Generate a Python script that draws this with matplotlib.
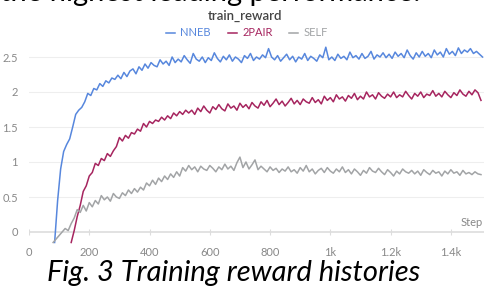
import numpy as np
import matplotlib.pyplot as plt

# --- data ---
nneb_start, pair_start, self_start = 85, 140, 80
step_size = 10

nneb = [-0.15, 0.45, 0.9, 1.15, 1.25, 1.33, 1.5, 1.68, 1.74, 1.78,
        1.86, 1.98, 1.95, 2.05, 2.03, 2.12, 2.08, 2.16, 2.13, 2.2,
        2.18, 2.24, 2.19, 2.28, 2.22, 2.3, 2.33, 2.26, 2.36, 2.31,
        2.4, 2.34, 2.42, 2.38, 2.36, 2.46, 2.4, 2.44, 2.38, 2.5,
        2.42, 2.47,
        2.43, 2.52, 2.46, 2.41, 2.55, 2.47, 2.44, 2.5, 2.42, 2.49,
        2.45, 2.56, 2.48, 2.43, 2.51, 2.46, 2.53, 2.44, 2.5, 2.47,
        2.42, 2.52, 2.48, 2.55, 2.45, 2.5, 2.47, 2.53, 2.49, 2.62,
        2.5, 2.46, 2.52, 2.44, 2.49, 2.54, 2.46, 2.51, 2.43, 2.5,
        2.47, 2.55, 2.45, 2.51, 2.48, 2.44, 2.53, 2.49, 2.64, 2.46,
        2.5, 2.45, 2.54, 2.48, 2.51, 2.46, 2.57, 2.49, 2.52, 2.47,
        2.55, 2.48, 2.51, 2.58, 2.47, 2.53, 2.5, 2.56, 2.49, 2.54,
        2.48, 2.57, 2.51, 2.55, 2.49, 2.6, 2.52, 2.47, 2.56, 2.5,
        2.58, 2.51, 2.55, 2.49, 2.6, 2.53, 2.57, 2.5, 2.62, 2.54,
        2.58, 2.52, 2.63, 2.55, 2.6, 2.57, 2.62, 2.55, 2.58, 2.54,
        2.5]

pair2 = [-0.15, 0.02, 0.22, 0.38, 0.58, 0.66, 0.8, 0.85, 0.98, 0.95,
         1.05, 1.02, 1.12, 1.08, 1.16, 1.22, 1.35, 1.3, 1.38, 1.34,
         1.42, 1.4, 1.47, 1.44, 1.55, 1.5, 1.58, 1.55, 1.6, 1.58,
         1.64, 1.6, 1.66, 1.62, 1.7, 1.66, 1.72, 1.68, 1.74, 1.7,
         1.74, 1.68, 1.77, 1.72, 1.8, 1.74, 1.7, 1.79, 1.75, 1.82,
         1.76, 1.73, 1.83, 1.77, 1.8, 1.74, 1.84, 1.78, 1.82, 1.76,
         1.85, 1.8, 1.77, 1.86, 1.81, 1.88, 1.79, 1.84, 1.9, 1.82,
         1.87, 1.8, 1.85, 1.91, 1.83, 1.88, 1.82, 1.9, 1.86, 1.84,
         1.92, 1.85, 1.89, 1.83, 1.94, 1.88, 1.92, 1.86, 1.96, 1.9,
         1.93, 1.87, 1.95, 1.91, 1.98, 1.89, 1.94, 1.9, 2.0, 1.93,
         1.96, 1.9, 1.99, 1.94, 1.91, 1.97, 1.93, 2.0, 1.92, 1.96,
         1.93, 2.01, 1.95, 1.9, 1.98, 1.94, 2.0, 1.92, 1.97, 1.95,
         2.02, 1.94, 1.98, 1.93, 2.01, 1.96, 1.92, 1.99, 1.95, 2.03,
         1.97, 1.94, 2.01, 1.96, 2.03, 1.99, 1.88]

self_ = [-0.15, -0.1, -0.05, 0.0, 0.05, 0.02, 0.12, 0.2, 0.32, 0.28,
         0.38, 0.3, 0.42, 0.36, 0.45, 0.4, 0.52, 0.46, 0.5, 0.44,
         0.55, 0.5, 0.48, 0.56, 0.52, 0.6, 0.55, 0.62, 0.57, 0.64,
         0.6, 0.7, 0.66, 0.74, 0.68, 0.77, 0.72, 0.8, 0.75, 0.83,
         0.78, 0.86, 0.8, 0.92, 0.87, 0.95, 0.89, 0.93, 0.86, 0.94,
         0.9, 0.88, 0.95, 0.91, 0.86, 0.93, 0.89, 0.97, 0.9, 0.94,
         0.88, 0.99, 1.07, 0.92, 1.0, 0.9, 0.96, 1.03, 0.89, 0.94,
         0.9, 0.86, 0.93, 0.88, 0.91, 0.85, 0.9, 0.87, 0.93, 0.86,
         0.89, 0.84, 0.92, 0.87, 0.95, 0.86, 0.9, 0.83, 0.88, 0.91,
         0.85, 0.92, 0.87, 0.84, 0.9, 0.86, 0.93, 0.85, 0.89, 0.83,
         0.9, 0.86, 0.81, 0.88, 0.84, 0.92, 0.87, 0.85, 0.91, 0.86,
         0.82, 0.89, 0.85, 0.8, 0.87, 0.83, 0.9, 0.86, 0.84, 0.88,
         0.83, 0.87, 0.81, 0.89, 0.85, 0.82, 0.88, 0.84, 0.86, 0.8,
         0.87, 0.83, 0.89, 0.84, 0.86, 0.81, 0.88, 0.83, 0.85, 0.82,
         0.86, 0.83, 0.82]

x_ticks = [0, 200, 400, 600, 800, 1000, 1200, 1400]
x_tick_labels = ['0', '200', '400', '600', '800', '1k', '1.2k', '1.4k']
y_ticks = [0, 0.5, 1, 1.5, 2, 2.5]
y_tick_labels = ['0', '0.5', '1', '1.5', '2', '2.5']

series = [('NNEB', nneb_start, nneb, '#5787dd'),
          ('2PAIR', pair_start, pair2, '#a6255f'),
          ('SELF', self_start, self_, '#a2a4a6')]

plt.rcParams['font.family'] = ['Lato', 'DejaVu Sans']

fig = plt.figure(figsize=(4.86, 2.88), dpi=100)
ax = fig.add_axes([29 / 486, 42 / 288, 455 / 486, 203 / 288])

handles = []
for name, start, vals, col in series:
    steps = start + step_size * np.arange(len(vals))
    h, = ax.plot(steps, vals, color=col, lw=1.1, label=name)
    handles.append(h)

ax.set_xlim(0, 1510)
ax.set_ylim(-0.2, 2.7)
for s in ax.spines.values():
    s.set_visible(False)

# grid and zero axis line in the wandb style
for yv in y_ticks[1:]:
    ax.axhline(yv, color='#eeeeee', lw=0.8, zorder=0)
ax.axhline(0, color='#dddddd', lw=1.2, zorder=0)
ax.vlines(x_ticks, -0.045, 0.045, color='#dddddd', lw=0.8, zorder=0)

ax.set_xticks(x_ticks, x_tick_labels)
ax.set_yticks(y_ticks, y_tick_labels)
ax.tick_params(axis='both', length=0, labelsize=8, colors='#888888')
ax.tick_params(axis='x', pad=1)
ax.tick_params(axis='y', pad=8)
ax.text(1505, 0.05, 'Step', ha='right', va='bottom', fontsize=8, color='#888888')

fig.text(245 / 486, 1 - 16 / 288, 'train_reward', ha='center', va='center',
         fontsize=9.5, fontweight='semibold', color='#444444')
fig.legend(handles=handles, loc='center', bbox_to_anchor=(247 / 486, 1 - 33 / 288),
           ncol=3, frameon=False, fontsize=8, handlelength=0.8, handletextpad=0.5,
           columnspacing=1.5, labelcolor='linecolor')

# surrounding document text
fig.text(0, 1 - 1.5 / 288, 'the highest leading performance.', ha='left', va='baseline',
         fontsize=21, color='black')
fig.text(47 / 486, 7 / 288, 'Fig. 3 Training reward histories', ha='left', va='baseline',
         fontsize=21, style='italic', color='black')

fig.savefig('out.png', dpi=100)
